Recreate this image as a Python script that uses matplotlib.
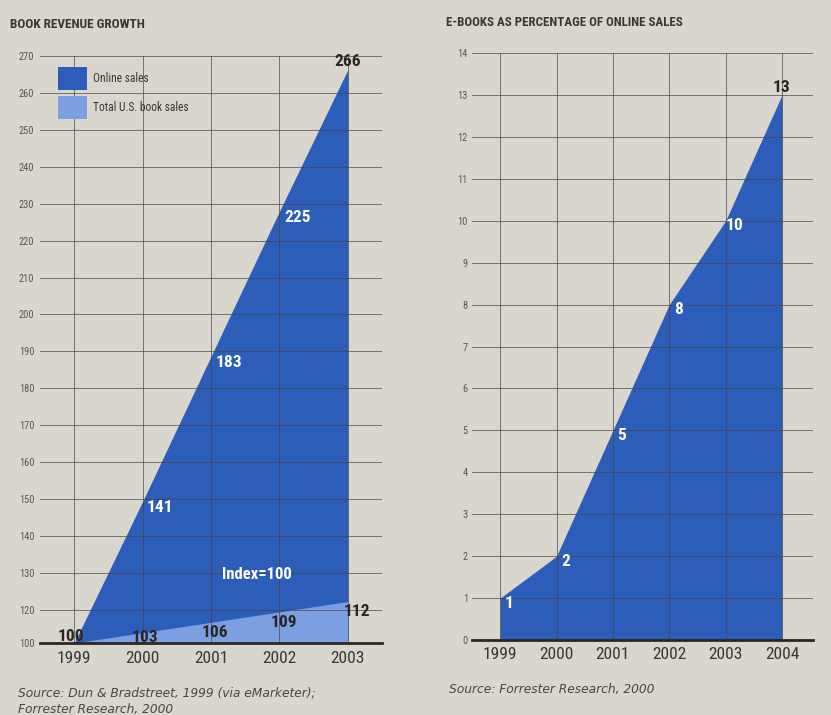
import matplotlib
matplotlib.use("Agg")
import matplotlib.pyplot as plt
from matplotlib import font_manager
from matplotlib.patches import Rectangle

# ---------------- data ----------------
years_left = [1999, 2000, 2001, 2002, 2003]
online_sales = [100, 141, 183, 225, 266]
total_book_sales = [100, 103, 106, 109, 112]

years_right = [1999, 2000, 2001, 2002, 2003, 2004]
ebook_pct = [1, 2, 5, 8, 10, 13]

left_ytick_values = list(range(120, 271, 10))   # gridded part of the broken axis
left_axis_base_label = "100"                     # label at the (broken) baseline
right_yticks = list(range(0, 15))

title_left = "BOOK REVENUE GROWTH"
title_right = "E-BOOKS AS PERCENTAGE OF ONLINE SALES"
source_left = "Source: Dun & Bradstreet, 1999 (via eMarketer);\nForrester Research, 2000"
source_right = "Source: Forrester Research, 2000"
index_note = "Index=100"

# ---------------- font: prefer an installed condensed face ----------------
cond_family = None
cond_stretch = "normal"
names = {f.name for f in font_manager.fontManager.ttflist}
for cand in ["Roboto Condensed", "Liberation Sans Narrow", "Open Sans Condensed",
             "Noto Sans Condensed", "DejaVu Sans Condensed"]:
    if cand in names:
        cond_family = cand
        break
if cond_family is None:
    for f in font_manager.fontManager.ttflist:
        st = str(f.stretch)
        if st in ("condensed", "semi-condensed", "extra-condensed") and \
                any(k in f.name for k in ("Noto Sans", "DejaVu Sans", "Open Sans", "Roboto", "Lato")) \
                and "CJK" not in f.name and "Mono" not in f.name:
            cond_family = f.name
            cond_stretch = st
            break
if cond_family is None:
    cond_family = "DejaVu Sans"
    K = 0.82
else:
    K = 1.0
plt.rcParams["font.family"] = [cond_family, "DejaVu Sans"]
plt.rcParams["font.stretch"] = cond_stretch

# ---------------- style ----------------
BG = "#d9d6ce"
DARK = "#2b5db9"
LIGHT = "#7c9fe2"
GRID = "#4a4440"
TXT = "#3a3632"
INK = "#2a2624"

fig = plt.figure(figsize=(8.31, 7.15), dpi=100)
fig.patch.set_facecolor(BG)

posL = [40 / 831, 1 - 643 / 715, 342 / 831, 587 / 715]
posR = [472 / 831, 1 - 640 / 715, 341 / 831, 587 / 715]

axD = fig.add_axes(posL)
axG = fig.add_axes(posL, sharex=axD)
axR = fig.add_axes(posR)

axD.set_facecolor("none")
axD.axis("off")

for ax in (axG, axR):
    ax.set_facecolor("none")
    for s in ("top", "left", "right"):
        ax.spines[s].set_visible(False)
    ax.spines["bottom"].set_color(INK)
    ax.spines["bottom"].set_linewidth(2.0)
    ax.spines["bottom"].set_zorder(5)
    ax.tick_params(axis="both", length=0)
    ax.grid(True, color=GRID, linewidth=0.7, alpha=0.7, zorder=3)

FS_NUM = 12.5 * K
FS_TICKX = 12.5 * K
FS_TICKY = 7.5 * K

# ---- left chart ----
axD.fill_between(years_left, 100, online_sales, color=DARK, linewidth=0, zorder=1)
axD.fill_between(years_left, 100, total_book_sales, color=LIGHT, linewidth=0, zorder=2)
axD.set_xlim(1998.5, 2003.5)
axD.set_ylim(100, 270)

axG.set_ylim(111, 270)
axG.set_yticks([111] + left_ytick_values)
axG.set_yticklabels([left_axis_base_label] + [str(v) for v in left_ytick_values],
                    fontsize=FS_TICKY, color="#5a5550")
axG.set_xticks(years_left)
axG.set_xticklabels([str(v) for v in years_left], fontsize=FS_TICKX, color=TXT)
axG.tick_params(axis="y", pad=4)
axG.tick_params(axis="x", pad=5.5)

T = axD.transData
for i, (x, v) in enumerate(zip(years_left, online_sales)):
    if i == 0:
        continue
    if i == len(years_left) - 1:
        axG.text(x, v + 2.3, str(v), transform=T, color=INK, fontsize=FS_NUM,
                 fontweight="bold", ha="center", va="center", zorder=6)
    else:
        axG.text(x + 0.26, v - 1.8, str(v), transform=T, color="white", fontsize=FS_NUM,
                 fontweight="bold", ha="center", va="center", zorder=6)

total_offsets = [(-0.05, 1.8), (0.04, -1.3), (0.06, -3.1), (0.06, -3.0), (0.13, -3.0)]
for (x, v), (dx, dy) in zip(zip(years_left, total_book_sales), total_offsets):
    axG.text(x + dx, v + dy, str(v), transform=T, color=INK, fontsize=FS_NUM,
             fontweight="bold", ha="center", va="center", zorder=6)

axG.text(2001.67, 119.7, index_note, transform=T, color="white", fontsize=12 * K,
         fontweight="bold", ha="center", va="center", zorder=6)

# legend
axG.add_patch(Rectangle((0.053, 0.942), 0.085, 0.039, transform=axG.transAxes,
                        facecolor=DARK, edgecolor="none", zorder=6, clip_on=False))
axG.add_patch(Rectangle((0.053, 0.893), 0.085, 0.039, transform=axG.transAxes,
                        facecolor=LIGHT, edgecolor="none", zorder=6, clip_on=False))
axG.text(0.155, 0.961, "Online sales", transform=axG.transAxes, fontsize=8.3 * K,
         color=TXT, va="center", ha="left", zorder=6)
axG.text(0.155, 0.912, "Total U.S. book sales", transform=axG.transAxes, fontsize=8.3 * K,
         color=TXT, va="center", ha="left", zorder=6)

# ---- right chart ----
axR.fill_between(years_right, 0, ebook_pct, color=DARK, linewidth=0, zorder=1)
axR.set_xlim(1998.5, 2004.55)
axR.set_ylim(0, 14)
axR.set_yticks(right_yticks)
axR.set_xticks(years_right)
axR.set_yticklabels([str(v) for v in right_yticks], fontsize=FS_TICKY, color="#5a5550")
axR.set_xticklabels([str(v) for v in years_right], fontsize=FS_TICKX, color=TXT)
axR.tick_params(axis="y", pad=3)
axR.tick_params(axis="x", pad=5)

for i, (x, v) in enumerate(zip(years_right, ebook_pct)):
    if i == len(years_right) - 1:
        axR.text(x, v + 0.17, str(v), color=INK, fontsize=FS_NUM, fontweight="bold",
                 ha="center", va="center", zorder=6)
    else:
        axR.text(x + 0.16, v - 0.12, str(v), color="white", fontsize=FS_NUM,
                 fontweight="bold", ha="center", va="center", zorder=6)

# titles and sources
fig.text(10 / 831, 1 - 25 / 715, title_left, fontsize=9.5 * K, fontweight="bold",
         color=TXT, ha="left", va="center")
fig.text(446 / 831, 1 - 22 / 715, title_right, fontsize=9.3 * K, fontweight="bold",
         color=TXT, ha="left", va="center")
fig.text(18 / 831, 1 - 701 / 715, source_left, family=["DejaVu Sans"], stretch="normal",
         fontsize=8.8, style="italic",
         color="#4a4540", ha="left", va="center", linespacing=1.3)
fig.text(449 / 831, 1 - 690 / 715, source_right, family=["DejaVu Sans"], stretch="normal",
         fontsize=8.8, style="italic",
         color="#4a4540", ha="left", va="center")

fig.savefig("out.png", dpi=100, facecolor=BG)
